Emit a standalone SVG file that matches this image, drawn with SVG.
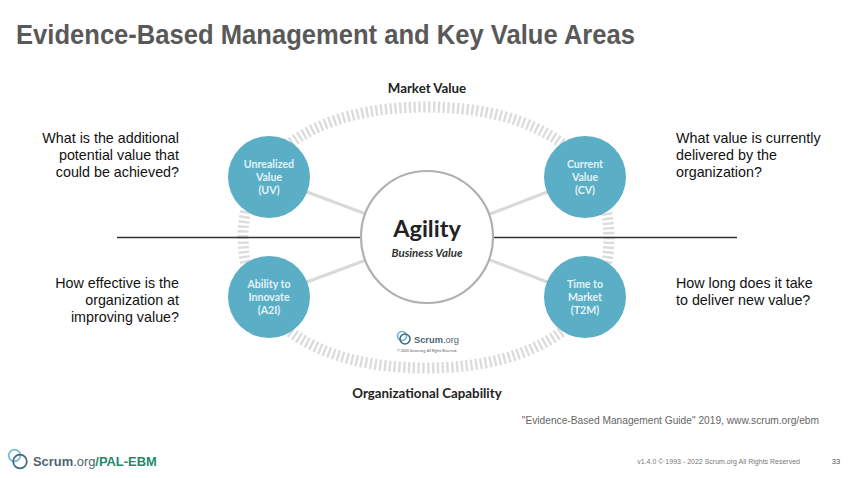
<svg xmlns="http://www.w3.org/2000/svg" width="854" height="478" viewBox="0 0 854 478">
<style>
text{font-family:"Liberation Sans",Arial,sans-serif}
.q{font-size:14.3px;fill:#111}
.e{text-anchor:end}
.d{font-family:Lato,"Noto Sans",sans-serif;text-anchor:middle}
.h{font-size:13.3px;font-weight:700;fill:#222}
.n{font-size:10.6px;font-weight:700;fill:#e4f2f6}
.node{fill:#5aaec6}
.link{stroke:#d9d9d9;stroke-width:3;fill:none}
.axis{stroke:#333;stroke-width:1.3;fill:none}
.ring{fill:none;stroke:#dcdcdc;stroke-width:11;stroke-dasharray:2.4 2.4}
.logo{fill:none;stroke-width:1.6}
</style>
<rect width="854" height="478" fill="#fff"/>
<text id="title" x="16" y="43.500" font-size="27" font-weight="700" fill="#595959" textLength="619" lengthAdjust="spacingAndGlyphs">Evidence-Based Management and Key Value Areas</text>
<g id="connectors">
<path class="ring" d="M243 237.500C243 156.900 312.500 107 426 107C539.500 107 609 156.900 609 237.500C609 318.100 539.500 368 426 368C312.500 368 243 318.100 243 237.500Z"/>
<path class="axis" d="M117 237.500H360M494 237.500H737"/>
<path class="link" d="M307 192L366 214M547 192L490 214M307 282L366 260M547 282L490 260"/>
</g>
<g id="agility">
<circle cx="427" cy="237" r="66" fill="#fff" stroke="#b0b0b0" stroke-width="2.200"/>
<text class="d" x="427" y="237" font-size="23.500" font-weight="700" fill="#222">Agility</text>
<text class="d" x="427" y="257" font-size="11.500" font-weight="700" font-style="italic" fill="#333">Business Value</text>
</g>
<g id="uv"><circle class="node" cx="269" cy="177" r="41"/>
<text class="d n" x="269" y="168">Unrealized</text><text class="d n" x="269" y="181">Value</text><text class="d n" x="269" y="193.500">(UV)</text></g>
<g id="cv"><circle class="node" cx="585" cy="177" r="41"/>
<text class="d n" x="585" y="168">Current</text><text class="d n" x="585" y="181">Value</text><text class="d n" x="585" y="193.500">(CV)</text></g>
<g id="a2i"><circle class="node" cx="269" cy="297" r="41"/>
<text class="d n" x="269" y="288">Ability to</text><text class="d n" x="269" y="301">Innovate</text><text class="d n" x="269" y="313.500">(A2I)</text></g>
<g id="t2m"><circle class="node" cx="585" cy="297" r="41"/>
<text class="d n" x="585" y="288">Time to</text><text class="d n" x="585" y="301">Market</text><text class="d n" x="585" y="313.500">(T2M)</text></g>
<text class="d h" x="427" y="93">Market Value</text>
<text class="d h" x="427" y="397.500">Organizational Capability</text>
<g id="q-uv"><text class="q e" x="179" y="143">What is the additional</text><text class="q e" x="179" y="160">potential value that</text><text class="q e" x="179" y="177">could be achieved?</text></g>
<g id="q-cv"><text class="q" x="676" y="143">What value is currently</text><text class="q" x="676" y="160">delivered by the</text><text class="q" x="676" y="177">organization?</text></g>
<g id="q-a2i"><text class="q e" x="179" y="288">How effective is the</text><text class="q e" x="179" y="305">organization at</text><text class="q e" x="179" y="322">improving value?</text></g>
<g id="q-t2m"><text class="q" x="676" y="288">How long does it take</text><text class="q" x="676" y="305">to deliver new value?</text></g>
<g id="logo-center">
<circle class="logo" cx="402" cy="336" r="4.500" stroke="#6fb3cc"/>
<circle class="logo" cx="405" cy="339" r="5" stroke="#3c6e80"/>
<text x="414" y="343" font-size="9.300" font-family="Lato,sans-serif" font-weight="700" fill="#4a6672">Scrum<tspan font-weight="400">.org</tspan></text>
<text class="d" x="427" y="352" font-size="3.500" fill="#555">© 2020 Scrum.org. All Rights Reserved.</text>
</g>
<text id="source" x="819" y="424" text-anchor="end" font-size="10.200" fill="#666">"Evidence-Based Management Guide" 2019, www.scrum.org/ebm</text>
<g id="logo-footer">
<circle cx="14.500" cy="455.500" r="5.800" fill="none" stroke="#79bcd3" stroke-width="1.800"/>
<circle cx="20" cy="461.500" r="6.800" fill="none" stroke="#3f6d80" stroke-width="1.800"/>
<text x="33" y="465.500" font-size="12.900" font-family="Lato,sans-serif" font-weight="700" fill="#4d6572">Scrum<tspan font-weight="400">.org</tspan><tspan font-weight="700" fill="#1f8a6d">/PAL-EBM</tspan></text>
</g>
<text id="version" x="800" y="464" text-anchor="end" font-size="7" fill="#777">v1.4.0 © 1993 - 2022 Scrum.org All Rights Reserved</text>
<text id="page" x="836" y="464" text-anchor="middle" font-size="7.500" fill="#555">33</text>
</svg>
